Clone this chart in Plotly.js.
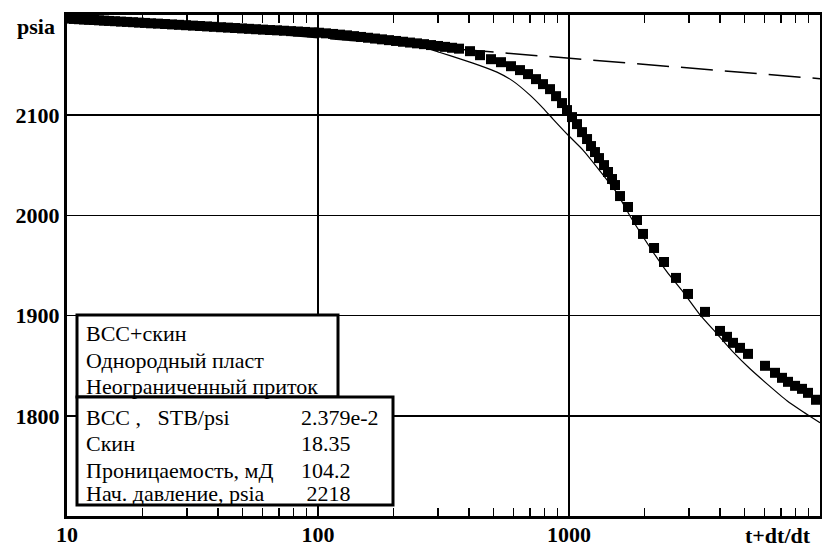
<!DOCTYPE html>
<html>
<head>
<meta charset="utf-8">
<script src="https://cdn.plot.ly/plotly-3.0.1.min.js"></script>
<style>html,body{margin:0;padding:0;background:#fff;}#chart{width:822px;height:547px;}</style>
</head>
<body>
<div id="chart"></div>
<script>
// Observed data (squares): t+dt/dt vs pressure, psia
const obsX = [10.18, 10.66, 11.16, 11.69, 12.24, 12.81, 13.41, 14.04, 14.70, 15.53,
  16.41, 17.34, 18.32, 19.36, 20.45, 21.61, 23.04, 24.58, 26.20, 27.94,
  29.79, 31.77, 33.88, 36.13, 38.52, 41.07, 43.80, 46.70, 49.80, 53.10,
  56.62, 60.38, 64.38, 68.65, 73.20, 78.06, 83.23, 88.75, 94.64, 100.9,
  107.6, 114.8, 122.4, 130.5, 139.2, 148.4, 158.2, 168.7, 179.9, 191.8,
  204.6, 218.1, 232.6, 248.0, 264.5, 282.0, 300.7, 320.7, 342.0, 364.6,
  403.3, 442.1, 489.0, 535.8, 587.4, 637.8, 686.6, 738.8, 787.8, 840.3,
  888.0, 937.8, 981.8, 1028, 1076, 1127, 1180, 1224, 1269, 1317,
  1379, 1430, 1484, 1525, 1597, 1718, 1866, 1972, 2182, 2391,
  2669, 2980, 3482, 3996, 4262, 4502, 4801, 5167, 6039, 6619,
  7058, 7457, 7954, 8477, 8958, 9641];
const obsY = [2196.4, 2196.1, 2195.8, 2195.5, 2195.2, 2195.0, 2194.7, 2194.4, 2194.1, 2193.8,
  2193.4, 2193.1, 2192.8, 2192.4, 2192.1, 2191.7, 2191.4, 2191.0, 2190.6, 2190.2,
  2189.8, 2189.4, 2189.0, 2188.6, 2188.2, 2187.8, 2187.4, 2187.0, 2186.6, 2186.2,
  2185.8, 2185.4, 2185.0, 2184.7, 2184.3, 2183.9, 2183.5, 2183.1, 2182.7, 2182.3,
  2181.7, 2181.1, 2180.4, 2179.7, 2178.9, 2178.1, 2177.3, 2176.5, 2175.7, 2174.9,
  2174.1, 2173.3, 2172.5, 2171.7, 2170.9, 2170.0, 2169.1, 2168.2, 2167.3, 2166.4,
  2163.9, 2159.9, 2155.9, 2152.9, 2148.9, 2145.0, 2141.0, 2136.0, 2131.0, 2126.0,
  2119.0, 2112.1, 2105.1, 2098.1, 2091.1, 2083.1, 2076.2, 2069.2, 2063.2, 2057.2,
  2050.2, 2043.3, 2036.3, 2030.3, 2019.3, 2008.4, 1995.4, 1981.5, 1967.5, 1953.5,
  1937.6, 1921.6, 1903.7, 1884.7, 1878.8, 1872.8, 1867.8, 1861.8, 1849.9, 1842.9,
  1837.9, 1833.9, 1829.9, 1826.9, 1822.9, 1816.0];

// Model curve (thin solid line)
const modelX = [10, 13.54, 21.41, 33.88, 53.6, 84.8, 134.1, 212.2, 254.9, 306.3,
  368.0, 442.1, 516.6, 598.4, 699.1, 787.8, 863.6, 990.8, 1137, 1329,
  1553, 1750, 1918, 2161, 2457, 2846, 3326, 3887, 4502, 5262,
  6150, 7388, 8555, 10000];
const modelY = [2196.5, 2195.6, 2192.6, 2189.3, 2186.3, 2183.3, 2179.4, 2173.4, 2168.9, 2162.6,
  2156.2, 2149.5, 2143.0, 2134.0, 2120.0, 2107.1, 2096.1, 2080.2, 2065.2, 2044.3,
  2022.3, 1999.4, 1983.4, 1963.5, 1943.6, 1923.6, 1900.7, 1881.8, 1863.8, 1846.9,
  1831.9, 1815.0, 1804.0, 1793.0];

// Semilog straight line (dashed)
const semilogX = [10, 10000];
const semilogY = [2197.8, 2136.4];

// Axis ticks (labelled decades plus unlabelled 2..9 ticks)
const xTickVals = [10, 20, 30, 40, 50, 60, 70, 80, 90,
  100, 200, 300, 400, 500, 600, 700, 800, 900,
  1000, 2000, 3000, 4000, 5000, 6000, 7000, 8000, 9000];
const xTickText = ['10', '', '', '', '', '', '', '', '',
  '100', '', '', '', '', '', '', '', '',
  '1000', '', '', '', '', '', '', '', ''];
const xGridVals = [100, 1000];
const yTickVals = [1800, 1900, 2000, 2100];
const yTickText = ['1800', '1900', '2000', '2100'];
const xAxisLabel = 't+dt/dt';
const yAxisLabel = 'psia';

// Legend box texts
const modelLines = ['ВСС+скин', 'Однородный пласт', 'Неограниченный приток'];
const paramNames = ['ВСС ,\u00a0\u00a0\u00a0STB/psi', 'Скин', 'Проницаемость, мД', 'Нач. давление, psia'];
const paramValues = ['2.379e-2', '18.35', '104.2', '\u00a02218'];

const labelFont = {family: 'Liberation Serif, Times New Roman, serif', size: 22, color: '#000', weight: 'bold'};
const boxFont = {family: 'Liberation Serif, Times New Roman, serif', size: 22, color: '#000'};

const traces = [
  {x: semilogX, y: semilogY, type: 'scatter', mode: 'lines', hoverinfo: 'skip',
   line: {color: '#000', width: 1.5, dash: '32px,12px'}},
  {x: modelX, y: modelY, type: 'scatter', mode: 'lines', hoverinfo: 'skip',
   line: {color: '#000', width: 1.2, shape: 'spline', smoothing: 0.5}},
  {x: obsX, y: obsY, type: 'scatter', mode: 'markers',
   marker: {symbol: 'square', size: 10, color: '#000', line: {width: 0}}}
];

const W = 753, H = 501; // plot area px
function px2x(p){ return p / W; }
function py2y(p){ return 1 - p / H; }

const shapes = [
  {type: 'rect', xref: 'paper', yref: 'paper', layer: 'above',
   x0: px2x(10), x1: px2x(271), y0: py2y(382), y1: py2y(300),
   fillcolor: '#fff', line: {color: '#000', width: 3}},
  {type: 'rect', xref: 'paper', yref: 'paper', layer: 'above',
   x0: px2x(10), x1: px2x(326), y0: py2y(490), y1: py2y(382),
   fillcolor: '#fff', line: {color: '#000', width: 3}}
];

const annotations = [];
const line1Y = [318, 345, 371];
modelLines.forEach((t, i) => annotations.push({
  xref: 'paper', yref: 'paper', x: px2x(17), y: py2y(line1Y[i]), xanchor: 'left', yanchor: 'middle',
  text: t, showarrow: false, font: boxFont}));
const line2Y = [402, 428, 455, 478];
paramNames.forEach((t, i) => {
  annotations.push({xref: 'paper', yref: 'paper', x: px2x(17), y: py2y(line2Y[i]), xanchor: 'left', yanchor: 'middle',
    text: t, showarrow: false, font: boxFont});
  annotations.push({xref: 'paper', yref: 'paper', x: px2x(232), y: py2y(line2Y[i]), xanchor: 'left', yanchor: 'middle',
    text: paramValues[i], showarrow: false, font: boxFont});
});
annotations.push({xref: 'paper', yref: 'paper', x: 1, y: 0, xanchor: 'right', yanchor: 'middle',
  xshift: -7, yshift: -19, text: xAxisLabel, showarrow: false, font: labelFont});
annotations.push({xref: 'paper', yref: 'paper', x: 0, y: 1, xanchor: 'right', yanchor: 'middle',
  xshift: -10, yshift: -11, text: yAxisLabel, showarrow: false, font: labelFont});

const layout = {
  width: 822, height: 547,
  margin: {l: 67, r: 2, t: 15, b: 31, pad: 0},
  paper_bgcolor: '#fff', plot_bgcolor: '#fff',
  showlegend: false,
  xaxis: {type: 'log', range: [1, 4], tickmode: 'array', tickvals: xTickVals, ticktext: xTickText,
    showgrid: false, zeroline: false,
    showline: true, linecolor: '#000', linewidth: 3, mirror: 'allticks',
    ticks: 'inside', ticklen: 8, tickwidth: 1.5, tickcolor: '#000',
    tickfont: labelFont, ticklabelstandoff: -3,
    minor: {tickmode: 'array', tickvals: xGridVals, ticks: '', showgrid: true, gridcolor: '#000', gridwidth: 1.5}},
  yaxis: {range: [1700, 2200], tickmode: 'array', tickvals: yTickVals, ticktext: yTickText,
    showgrid: true, gridcolor: '#000', gridwidth: 1.5, zeroline: false,
    showline: true, linecolor: '#000', linewidth: 3, mirror: true, ticks: '',
    tickfont: labelFont},
  shapes: shapes,
  annotations: annotations
};

Plotly.newPlot('chart', traces, layout, {staticPlot: true, displayModeBar: false});
</script>
</body>
</html>
